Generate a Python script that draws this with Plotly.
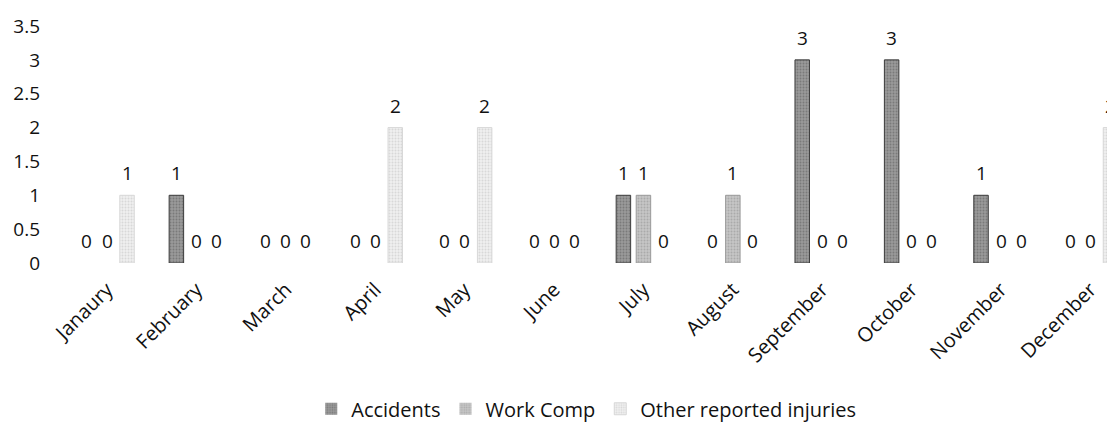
import plotly.graph_objects as go

months = ["Janaury", "February", "March", "April", "May", "June",
          "July", "August", "September", "October", "November", "December"]
accidents = [0, 1, 0, 0, 0, 0, 1, 0, 3, 3, 1, 0]
work_comp = [0, 0, 0, 0, 0, 0, 1, 1, 0, 0, 0, 0]
other_injuries = [1, 0, 0, 2, 2, 0, 0, 0, 0, 0, 0, 2]
y_ticks = [0, 0.5, 1, 1.5, 2, 2.5, 3, 3.5]

FONT = "'Open Sans', Lato, sans-serif"
pitch = 0.224      # distance between bars of one month, in category units
bar_w = 0.162
X_RANGE = [-0.5817, 11.185]
PLOT_W = 1052      # plot-area width in px (1107 - left margin)
px_per_unit = PLOT_W / (X_RANGE[1] - X_RANGE[0])

series = [
    ("Accidents", accidents, -pitch, "#9a9a9a", "#5a5a5a", "#3a3a3a"),
    ("Work Comp", work_comp, 0.0, "#c6c6c6", "#8e8e8e", "#9a9a9a"),
    ("Other reported injuries", other_injuries, pitch, "#efefef", "#c2c2c2", "#d8d8d8"),
]

fig = go.Figure()
annotations = []
for name, vals, off, bg, fg, edge in series:
    xs = [i + off for i in range(len(months))]
    fig.add_trace(go.Bar(
        name=name, x=xs, y=vals, width=bar_w,
        marker=dict(color=bg,
                    line=dict(color=edge, width=[1 if v else 0 for v in vals]),
                    pattern=dict(shape=".", fgcolor=fg, bgcolor=bg,
                                 size=3, solidity=0.35, fillmode="overlay")),
        hoverinfo="skip",
    ))
    for x, v in zip(xs, vals):
        # labels past the right edge of the axis are pinned to it and pushed out in px
        x_in = min(x, X_RANGE[1] - 0.001)
        annotations.append(dict(x=x_in, y=v, xref="x", yref="y", text=str(v),
                                showarrow=False, yshift=22, yanchor="middle",
                                xshift=(x - x_in) * px_per_unit,
                                font=dict(family=FONT, size=19, color="#111")))

fig.update_layout(
    width=1107, height=424,
    margin=dict(l=55, r=0, t=26, b=161, autoexpand=False),
    paper_bgcolor="white", plot_bgcolor="white",
    barmode="overlay",
    font=dict(family=FONT, size=19, color="#111"),
    annotations=annotations,
    showlegend=True,
    legend=dict(orientation="h", x=0.505, xanchor="center", y=-0.615, yanchor="middle",
                font=dict(family=FONT, size=20, color="#111"),
                itemwidth=30, traceorder="normal"),
    xaxis=dict(range=X_RANGE, tickmode="array",
               tickvals=list(range(len(months))), ticktext=months,
               tickangle=-45, showgrid=False, zeroline=False, showline=False,
               ticks="", ticklabelstandoff=10, fixedrange=True, automargin=False,
               tickfont=dict(family=FONT, size=20, color="#111")),
    yaxis=dict(range=[0, 3.5], tickmode="array", tickvals=y_ticks,
               ticktext=[f"{t:g}" for t in y_ticks],
               showgrid=False, zeroline=False, showline=False, ticks="",
               ticklabelstandoff=14, fixedrange=True, automargin=False,
               tickfont=dict(family=FONT, size=19, color="#111")),
)

fig.write_html("out.html", config=dict(displayModeBar=False))
